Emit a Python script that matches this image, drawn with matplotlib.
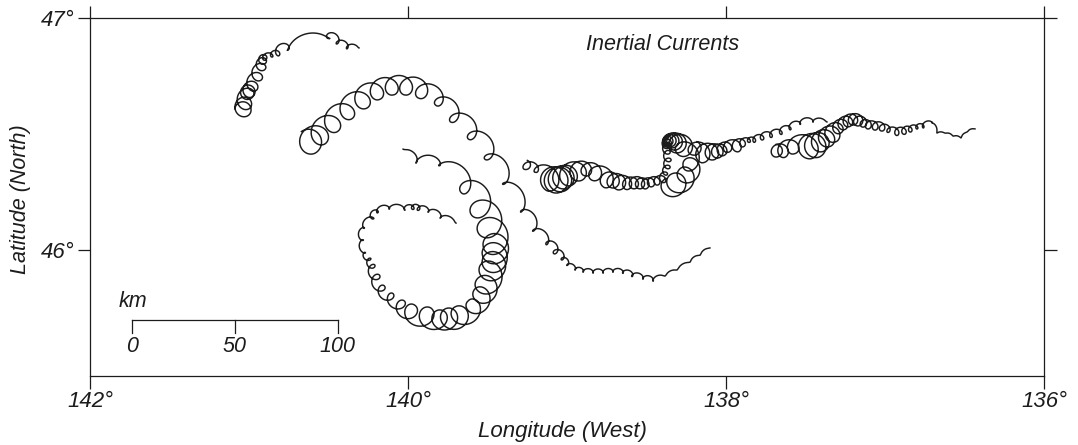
import numpy as np
import matplotlib
matplotlib.use("Agg")
import matplotlib.pyplot as plt

plt.rcParams['font.family'] = ['Liberation Sans', 'DejaVu Sans']

# Loop positions: degrees west, degrees north, visible loop radius in km
track1_lon = [141.031, 141.025, 141.006, 141.0, 140.975, 140.943, 140.918, 140.912, 140.906, 140.855,
              140.818, 140.761, 140.491, 140.447, 140.384, 140.308]
track1_lat = [46.603, 46.629, 46.677, 46.681, 46.703, 46.746, 46.789, 46.815, 46.828, 46.836,
              46.845, 46.862, 46.914, 46.892, 46.871, 46.871]
track1_rad = [3.4, 3.2, 2.9, 2.9, 2.4, 2.2, 1.9, 1.7, 1.2, 0.5, 1.0, 0.2, 0.2, 0.5, 0.5, 0.0]

track2_lon = [140.616, 140.553, 140.472, 140.377, 140.283, 140.195, 140.101, 140.013, 139.918, 139.811,
              139.717, 139.604, 139.503, 139.403, 139.289, 139.214, 139.126, 139.075, 139.031, 139.0,
              138.949, 138.899, 138.836, 138.773, 138.711, 138.648, 138.591, 138.522, 138.459, 138.383,
              138.308, 138.226, 138.163, 138.101]
track2_lat = [46.457, 46.487, 46.539, 46.591, 46.642, 46.677, 46.698, 46.698, 46.681, 46.638,
              46.565, 46.491, 46.401, 46.285, 46.164, 46.082, 46.026, 45.991, 45.961, 45.935,
              45.914, 45.905, 45.901, 45.901, 45.905, 45.901, 45.888, 45.875, 45.866, 45.888,
              45.914, 45.948, 45.978, 46.009]
track2_rad = [5.1, 4.1, 3.9, 3.4, 3.9, 3.4, 3.4, 3.4, 3.2, 1.9,
              1.9, 1.9, 1.5, 0.2, 0.2, 0.2, 0.5, 1.0, 0.5, 0.2,
              0.1, 0.1, 0.1, 0.1, 0.1, 0.2, 0.3, 0.1, 0.1, 0.0,
              0.0, 0.0, 0.0, 0.0]

track3_lon = [140.031, 139.95, 139.805, 139.635, 139.553, 139.497, 139.459, 139.465, 139.465, 139.49,
              139.515, 139.541, 139.591, 139.679, 139.742, 139.798, 139.88, 139.981, 140.038, 140.107,
              140.163, 140.195, 140.22, 140.239, 140.27, 140.283, 140.277, 140.22, 140.195, 140.119,
              140.019, 139.968, 139.937, 139.874, 139.798, 139.698]
track3_lat = [46.435, 46.375, 46.366, 46.263, 46.172, 46.095, 46.022, 45.987, 45.948, 45.914,
              45.849, 45.81, 45.759, 45.72, 45.711, 45.707, 45.72, 45.737, 45.767, 45.802,
              45.836, 45.884, 45.931, 45.961, 45.987, 46.043, 46.095, 46.138, 46.164, 46.177,
              46.172, 46.181, 46.177, 46.164, 46.138, 46.116]
track3_rad = [0.0, 0.1, 0.1, 2.9, 4.4, 5.3, 5.3, 5.3, 5.3, 4.9,
              4.9, 3.9, 3.4, 4.4, 4.4, 3.9, 3.9, 3.4, 1.9, 1.5,
              1.5, 1.5, 1.0, 0.5, 0.2, 0.2, 0.2, 0.5, 0.5, 0.1,
              0.1, 0.7, 0.7, 0.1, 0.1, 0.0]

track4_lon = [139.264, 139.195, 139.094, 139.069, 139.044, 139.025, 138.994, 138.931, 138.881, 138.824,
              138.748, 138.711, 138.673, 138.623, 138.579, 138.541, 138.509, 138.472, 138.434, 138.396,
              138.377, 138.364, 138.358, 138.364, 138.371, 138.37, 138.364, 138.35, 138.339, 138.322,
              138.308, 138.27, 138.226, 138.257, 138.314, 138.358]
track4_lat = [46.358, 46.341, 46.297, 46.297, 46.302, 46.31, 46.315, 46.336, 46.341, 46.328,
              46.297, 46.293, 46.289, 46.28, 46.285, 46.285, 46.28, 46.289, 46.293, 46.302,
              46.328, 46.358, 46.388, 46.422, 46.453, 46.462, 46.47, 46.472, 46.47, 46.465,
              46.457, 46.44, 46.366, 46.323, 46.289, 46.276]
track4_rad = [1.2, 0.7, 5.3, 5.8, 5.8, 5.3, 4.4, 4.4, 2.4, 3.4,
              3.4, 2.9, 3.4, 2.2, 2.4, 2.4, 1.9, 1.9, 1.5, 1.5,
              0.7, 1.0, 1.0, 1.0, 1.5, 2.0, 2.4, 3.0, 3.4, 3.9,
              4.4, 3.9, 3.4, 3.9, 4.9, 3.9]

track5_lon = [138.207, 138.144, 138.088, 138.056, 138.025, 137.993, 137.93, 137.899, 137.855, 137.823,
              137.773, 137.717, 137.654, 137.597, 137.534, 137.453, 137.365]
track5_lat = [46.431, 46.41, 46.418, 46.422, 46.427, 46.44, 46.444, 46.457, 46.47, 46.47,
              46.483, 46.491, 46.504, 46.522, 46.543, 46.552, 46.552]
track5_rad = [2.4, 3.9, 3.4, 2.9, 2.4, 2.2, 2.4, 1.5, 0.7, 0.7,
              1.0, 0.7, 0.7, 0.5, 0.2, 0.1, 0.0]

track6_lon = [137.685, 137.641, 137.578, 137.472, 137.44, 137.409, 137.365, 137.333, 137.295, 137.264,
              137.233, 137.201, 137.17, 137.138, 137.106, 137.062, 137.019, 136.981, 136.924, 136.88,
              136.842, 136.799, 136.761, 136.704, 136.673, 136.623, 136.572, 136.522, 136.484, 136.434]
track6_lat = [46.422, 46.422, 46.44, 46.44, 46.444, 46.461, 46.478, 46.496, 46.522, 46.539,
              46.552, 46.56, 46.556, 46.543, 46.535, 46.53, 46.526, 46.513, 46.504, 46.509,
              46.517, 46.526, 46.53, 46.552, 46.504, 46.504, 46.491, 46.483, 46.509, 46.522]
track6_rad = [2.4, 2.7, 2.9, 5.3, 5.3, 4.4, 3.9, 3.9, 2.4, 2.4,
              2.4, 2.4, 2.4, 1.5, 1.5, 1.5, 1.5, 0.7, 1.2, 1.2,
              1.0, 0.5, 0.5, 0.1, 0.0, 0.0, 0.0, 0.0, 0.0, 0.0]

lon_ticks = [142, 140, 138, 136]
lat_ticks = [47, 46]
scale_km = [0, 50, 100]

KM_LON = 77.2   # km per degree of longitude at this latitude
KM_LAT = 112.6  # km per degree of latitude
INK = '#1c1c1c'


def loop_curve(lons, lats, radii, lead=0.5, tail=0.0):
    """Clockwise inertial loop through the read positions, one turn per position."""
    x = -np.array(lons) * KM_LON
    y = np.array(lats) * KM_LAT
    radii = np.array(radii)
    dx, dy = np.gradient(x), np.gradient(y)
    step = np.maximum(np.hypot(dx, dy), 0.01)
    fx, fy = dx / step, dy / step
    # radius 0 means no visible loop, the line only wiggles there
    shift = step / (2 * np.pi) * np.where(radii == 0, 0.5, 1.2)
    cx = x - fy * shift
    cy = y + fx * shift
    rad = radii + shift

    idx = np.arange(len(x))
    t = np.linspace(-lead, len(x) - 1 + tail, len(x) * 60)
    fxt, fyt = np.interp(t, idx, fx), np.interp(t, idx, fy)
    norm = np.maximum(np.hypot(fxt, fyt), 1e-6)
    fxt, fyt = fxt / norm, fyt / norm
    phase = 2 * np.pi * (t + 0.5)
    rt = np.interp(t, idx, rad)
    px = np.interp(t, idx, cx) + rt * (np.cos(phase) * -fyt + np.sin(phase) * fxt)
    py = np.interp(t, idx, cy) + rt * (np.cos(phase) * fxt + np.sin(phase) * fyt)
    return -px / KM_LON, py / KM_LAT


fig = plt.figure(figsize=(10.78, 4.45), dpi=100)
ax = fig.add_axes([90 / 1078, 1 - 376 / 445, 954 / 1078, 358 / 445])
ax.set_xlim(142, 136)
ax.set_ylim(45.457, 47)

tracks = [
    (track1_lon, track1_lat, track1_rad, 0.5, 0.0),
    (track2_lon, track2_lat, track2_rad, 0.5, 0.0),
    (track3_lon, track3_lat, track3_rad, 0.0, 0.0),
    (track4_lon, track4_lat, track4_rad, 0.5, 0.0),
    (track5_lon, track5_lat, track5_rad, 0.5, 0.0),
    (track6_lon, track6_lat, track6_rad, 0.5, 0.0),
]
for lons, lats, rads, lead, tail in tracks:
    cx, cy = loop_curve(lons, lats, rads, lead, tail)
    ax.plot(cx, cy, color=INK, lw=1.05)

# Frame and ticks
for side in ax.spines.values():
    side.set_linewidth(0.9)
    side.set_color(INK)
ax.set_xticks(lon_ticks)
ax.set_xticklabels([f'{v}°' for v in lon_ticks], style='italic', fontsize=16, color=INK)
ax.set_yticks(lat_ticks)
ax.set_yticklabels([f'{v}°' for v in lat_ticks], style='italic', fontsize=16, color=INK)
ax.tick_params(axis='both', which='major', direction='out', length=9, width=0.9, color=INK,
               top=True, right=True, pad=2)
for tick in ax.xaxis.get_major_ticks() + ax.yaxis.get_major_ticks():
    tick.tick1line.set_clip_on(False)
    tick.tick2line.set_clip_on(False)

ax.set_xlabel('Longitude (West)', style='italic', fontsize=16, color=INK)
ax.xaxis.set_label_coords((562 - 90) / 954, -(432 - 376) / 358, transform=ax.transAxes)
ax.xaxis.label.set_va('center')
ax.set_ylabel('Latitude (North)', style='italic', fontsize=15.5, color=INK)
ax.yaxis.set_label_coords(-(90 - 21) / 954, (376 - 199) / 358, transform=ax.transAxes)
ax.yaxis.label.set_va('center')
ax.text(138.40, 46.885, 'Inertial Currents', style='italic', fontsize=15.5, color=INK, ha='center', va='center')

# Scale bar
bar_lon = [141.736 - km / KM_LON for km in scale_km]
ax.plot(bar_lon, [45.698] * 3, color=INK, lw=0.9)
for lon, km in zip(bar_lon, scale_km):
    ax.plot([lon, lon], [45.698, 45.642], color=INK, lw=0.9)
    ax.text(lon, 45.582, str(km), style='italic', fontsize=15.5, color=INK, ha='center', va='center')
ax.text(141.732, 45.777, 'km', style='italic', fontsize=15.5, color=INK, ha='center', va='center')

fig.savefig('out.png', dpi=100)
